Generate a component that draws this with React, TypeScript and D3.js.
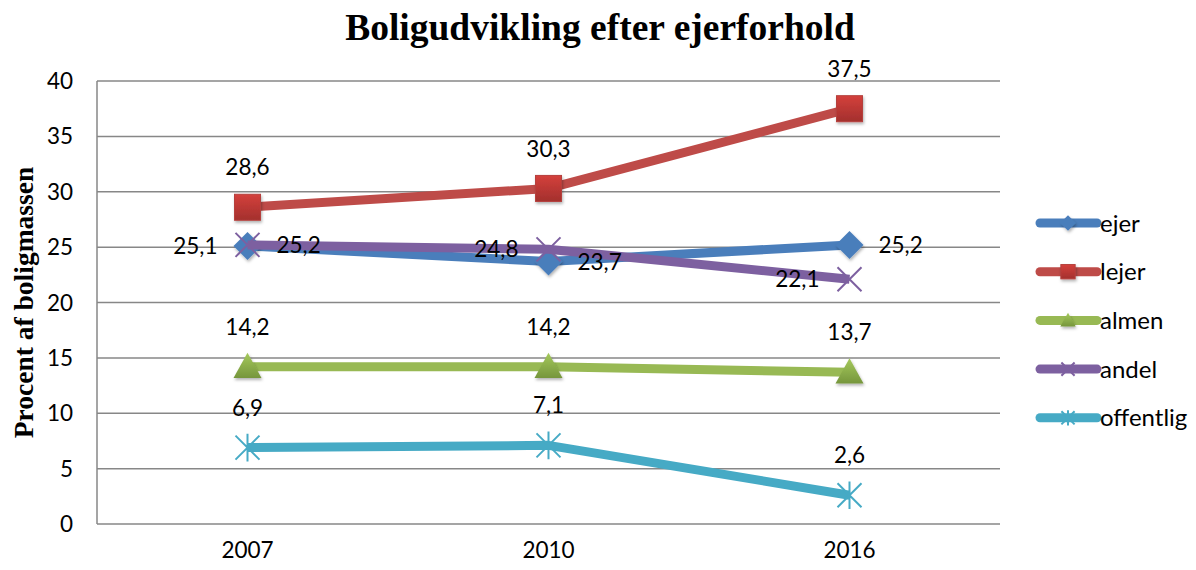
import * as d3 from 'd3';

const years = ['2007', '2010', '2016'];
const ejer = [25.1, 23.7, 25.2];
const lejer = [28.6, 30.3, 37.5];
const almen = [14.2, 14.2, 13.7];
const andel = [25.2, 24.8, 22.1];
const offentlig = [6.9, 7.1, 2.6];
const yTicks = [0, 5, 10, 15, 20, 25, 30, 35, 40];

// where each point's label sits: 'top', 'left', 'right'
const series = [
  { name: 'ejer', values: ejer, color: '#4a7ebb', marker: 'diamond', pos: ['left', 'right', 'right'] },
  { name: 'lejer', values: lejer, color: '#be4b48', marker: 'square', pos: ['top', 'top', 'top'] },
  { name: 'almen', values: almen, color: '#98b954', marker: 'triangle', pos: ['top', 'top', 'top'] },
  { name: 'andel', values: andel, color: '#7d60a0', marker: 'x', pos: ['right', 'left', 'left'] },
  { name: 'offentlig', values: offentlig, color: '#46aac5', marker: 'star', pos: ['top', 'top', 'top'] },
];

const W = 1196;
const H = 570;
const left = 97, right = 1000, top = 81, bottom = 524;
const numFont = 'Lato, "Open Sans", sans-serif';

function Marker({ type, x, y, color, s = 1 }: { type: string; x: number; y: number; color: string; s?: number }) {
  if (type === 'diamond') {
    const r = 14 * s;
    return <path d={`M${x},${y - r}L${x + r},${y}L${x},${y + r}L${x - r},${y}Z`} fill={color} filter="url(#shadow)" />;
  }
  if (type === 'square') {
    const r = 13 * s;
    return <rect x={x - r} y={y - r} width={2 * r} height={2 * r} fill="url(#gradRed)" stroke="#b5403d" strokeWidth={1} filter="url(#shadow)" />;
  }
  if (type === 'triangle') {
    const r = 14 * s;
    return <path d={`M${x},${y - r}L${x + r},${y + r * 0.8}L${x - r},${y + r * 0.8}Z`} fill="url(#gradGreen)" filter="url(#shadow)" />;
  }
  if (type === 'x') {
    const r = 12 * s;
    return <path d={`M${x - r},${y - r}L${x + r},${y + r}M${x - r},${y + r}L${x + r},${y - r}`} stroke={color} strokeWidth={2} />;
  }
  const r = 12 * s;
  return (
    <path
      d={`M${x - r},${y - r}L${x + r},${y + r}M${x - r},${y + r}L${x + r},${y - r}M${x},${y - r * 1.15}L${x},${y + r * 1.15}`}
      stroke={color}
      strokeWidth={2}
    />
  );
}

export default function App() {
  const x = d3.scaleBand<string>().domain(years).range([left, right]).padding(0);
  const y = d3.scaleLinear().domain([0, 40]).range([bottom, top]);
  const cx = (c: string) => (x(c) as number) + x.bandwidth() / 2;
  const line = d3.line<number>().x((_, i) => cx(years[i])).y(d => y(d));
  const fmt = (v: number) => v.toFixed(1).replace('.', ',');

  return (
    <svg width={W} height={H} style={{ position: 'absolute', left: 0, top: 0, background: '#fff' }}>
      <defs>
        <filter id="shadow" x="-50%" y="-50%" width="200%" height="200%">
          <feDropShadow dx="1" dy="2" stdDeviation="1.5" floodColor="#000" floodOpacity="0.3" />
        </filter>
        <linearGradient id="gradRed" x1="0" y1="0" x2="0" y2="1">
          <stop offset="0" stopColor="#d4403c" />
          <stop offset="1" stopColor="#a3302d" />
        </linearGradient>
        <linearGradient id="gradGreen" x1="0" y1="0" x2="0" y2="1">
          <stop offset="0" stopColor="#a5c95c" />
          <stop offset="1" stopColor="#76963c" />
        </linearGradient>
      </defs>

      <text x={600} y={40} textAnchor="middle" fontFamily='"Liberation Serif", serif' fontWeight="bold" fontSize={37.5}>
        Boligudvikling efter ejerforhold
      </text>

      <text
        transform={`translate(33,${(top + bottom) / 2}) rotate(-90)`}
        textAnchor="middle"
        fontFamily='"Liberation Serif", serif'
        fontWeight="bold"
        fontSize={27.5}
      >
        Procent af boligmassen
      </text>

      {yTicks.map(t => (
        <g key={t}>
          <line x1={left} x2={right} y1={y(t)} y2={y(t)} stroke="#878787" strokeWidth={1.5} />
          <text x={73} y={y(t)} dy="0.36em" textAnchor="end" fontFamily={numFont} fontSize={22.5} fill="#000">
            {t}
          </text>
        </g>
      ))}
      <line x1={left} x2={left} y1={top} y2={bottom} stroke="#878787" strokeWidth={1.5} />

      {years.map(c => (
        <text key={c} x={cx(c)} y={558} textAnchor="middle" fontFamily={numFont} fontSize={22.5} fill="#000">
          {c}
        </text>
      ))}

      {series.map(s => (
        <g key={s.name}>
          <path d={line(s.values) || ''} fill="none" stroke={s.color} strokeWidth={9} strokeLinejoin="round" />
          {s.values.map((v, i) => (
            <Marker key={i} type={s.marker} x={cx(years[i])} y={y(v)} color={s.color} />
          ))}
        </g>
      ))}

      {series.map(s =>
        s.values.map((v, i) => {
          const px = cx(years[i]);
          const py = y(v);
          const p = s.pos[i];
          const lx = p === 'left' ? px - 30 : p === 'right' ? px + 29 : px;
          const ly = p === 'top' ? py - 40 : py;
          const anchor = p === 'left' ? 'end' : p === 'right' ? 'start' : 'middle';
          return (
            <text
              key={s.name + i}
              x={lx}
              y={ly}
              dy="0.36em"
              textAnchor={anchor}
              fontFamily={numFont}
              fontSize={22.5}
              fill="#000"
            >
              {fmt(v)}
            </text>
          );
        })
      )}

      {series.map((s, i) => {
        const ly = 223 + i * 48.7;
        return (
          <g key={s.name}>
            <line x1={1040} x2={1097} y1={ly} y2={ly} stroke={s.color} strokeWidth={9} strokeLinecap="round" />
            <Marker type={s.marker} x={1068} y={ly} color={s.color} s={0.55} />
            <text x={1100} y={ly} dy="0.36em" fontFamily={numFont} fontSize={24} fill="#000">
              {s.name}
            </text>
          </g>
        );
      })}
    </svg>
  );
}
